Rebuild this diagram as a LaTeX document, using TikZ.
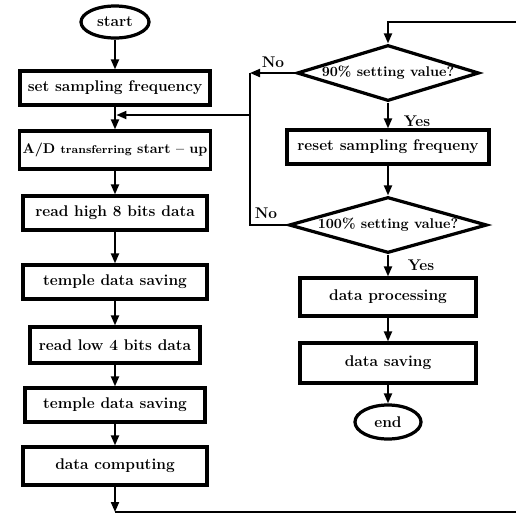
\documentclass[tikz,border=0pt]{standalone}
\usepackage{tikz}
\usetikzlibrary{arrows.meta,positioning,shapes.geometric,calc}
\newcommand{\bigbf}{\fontsize{11}{13}\selectfont\bfseries}
\tikzset{
  proc/.style={draw, line width=2.3pt, minimum height=8.5mm, inner sep=2pt, align=center, font=\bigbf},
  term/.style={draw, ellipse, line width=2.3pt, minimum width=17mm, minimum height=8mm, inner sep=1pt, font=\bigbf},
  test/.style={draw, diamond, line width=2.3pt, minimum width=45.5mm, minimum height=14mm, inner sep=0pt},
  flow/.style={-{Triangle[length=2.5mm,width=2mm]}, line width=1.4pt},
  link/.style={line width=1.4pt},
  lbl/.style={font=\bigbf},
}

\begin{document}
\begin{tikzpicture}[x=0.025cm, y=-0.025cm]
  \useasboundingbox (0,0) rectangle (516,516);
  \clip (0,0) rectangle (516,516);
  % left column
  \node[term] (start) at (115,22) {start};
  \node[proc, minimum width=47.5mm] (set) at (115,88) {set sampling frequency};
  \node[proc, minimum width=47.5mm, minimum height=9.5mm] (ad) at (115,150) {\normalsize\bfseries A/D {\footnotesize transferring} start -- up};
  \node[proc, minimum width=46mm] (high) at (115,213) {read high 8 bits data};
  \node[proc, minimum width=46mm] (tmpa) at (115,282) {temple data saving};
  \node[proc, minimum width=42.5mm, minimum height=9mm] (low) at (115,345) {read low 4 bits data};
  \node[proc, minimum width=45mm] (tmpb) at (115,405) {temple data saving};
  \node[proc, minimum width=46mm, minimum height=9.5mm] (comp) at (115,466) {data computing};
  % right column
  \node[test, label=center:{\normalsize\bfseries 90\% setting value?}] (chka) at (388,73) {};
  \node[proc, minimum width=50.5mm] (reset) at (388,147) {reset sampling frequeny};
  \node[test, minimum width=49.5mm, label=center:{\normalsize\bfseries 100\% setting value?}] (chkb) at (388,225) {};
  \node[proc, minimum width=44mm, minimum height=9.5mm] (dproc) at (388,297) {data processing};
  \node[proc, minimum width=44mm, minimum height=10mm] (dsave) at (388,363) {data saving};
  \node[term, minimum width=16.5mm, minimum height=8.5mm] (end) at (388,422) {end};
  % labels
  \node[lbl] (noa) at (273,62) {No};
  \node[lbl] (yesa) at (417,121) {Yes};
  \node[lbl] (nob) at (266,213) {No};
  \node[lbl] (yesb) at (421,265) {Yes};
  % turning points
  \coordinate (nl) at (250,73);
  \coordinate (nb) at (250,225);
  \coordinate (jn) at (250,115);
  \coordinate (bl) at (115,512);
  \coordinate (br) at (530,512);
  \coordinate (tr) at (530,22);
  % main flow
  \draw[flow] (start) -- (set);
  \draw[flow] (set) -- (ad);
  \draw[flow] (ad) -- (high);
  \draw[flow] (high) -- (tmpa);
  \draw[flow] (tmpa) -- (low);
  \draw[flow] (low) -- (tmpb);
  \draw[flow] (tmpb) -- (comp);
  \draw[flow] (comp) -- (bl);
  \draw[flow] (bl) -- (br) -- (tr) -| (chka.north);
  \draw[flow] (chka) -- (reset);
  \draw[flow] (reset) -- (chkb);
  \draw[flow] (chkb) -- (dproc);
  \draw[flow] (dproc) -- (dsave);
  \draw[flow] (dsave) -- (end);
  % back loops
  \draw[flow] (chka.west) -- (nl);
  \draw[link] (nl) -- (nb) -- (chkb.west);
  \draw[flow, shorten >=1pt] (jn) -- (jn -| set.south);
\end{tikzpicture}
\end{document}
